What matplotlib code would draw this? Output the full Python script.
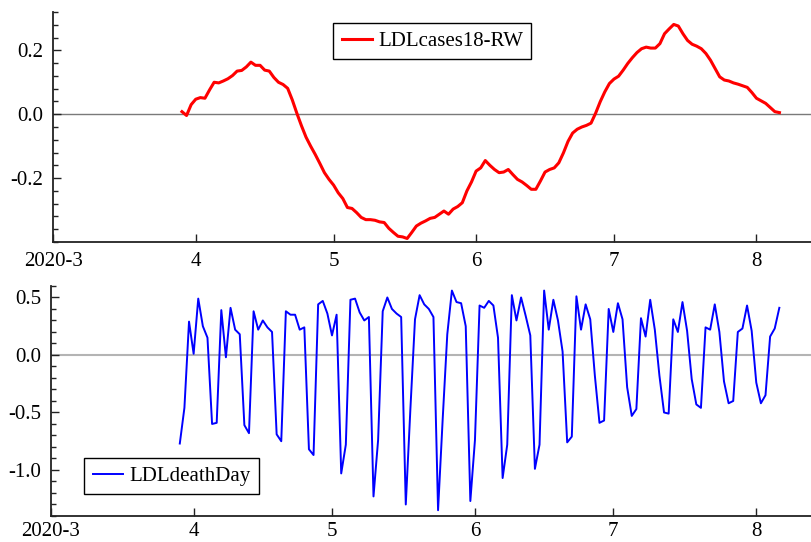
import matplotlib
matplotlib.use("Agg")
import matplotlib.pyplot as plt
import matplotlib.dates as mdates
from matplotlib.ticker import FixedLocator, FixedFormatter, MultipleLocator
import numpy as np
import pandas as pd

plt.rcParams['font.family'] = ['Liberation Serif', 'DejaVu Serif']
plt.rcParams['axes.unicode_minus'] = False

start_day = "2020-03-29"

cases18_rw = [
    0.008, -0.004, 0.030, 0.047, 0.052, 0.050, 0.076, 0.100, 0.098, 0.104,
    0.111, 0.121, 0.135, 0.137, 0.148, 0.163, 0.153, 0.153, 0.138, 0.135,
    0.115, 0.100, 0.093, 0.081, 0.045, 0.003, -0.036, -0.072, -0.100, -0.126,
    -0.154, -0.183, -0.204, -0.222, -0.246, -0.264, -0.292, -0.295, -0.308, -0.323,
    -0.330, -0.330, -0.332, -0.337, -0.339, -0.357, -0.370, -0.382, -0.384, -0.389,
    -0.370, -0.350, -0.341, -0.334, -0.326, -0.323, -0.313, -0.303, -0.313, -0.297,
    -0.289, -0.277, -0.240, -0.212, -0.178, -0.168, -0.145, -0.160, -0.173, -0.183,
    -0.181, -0.173, -0.189, -0.204, -0.212, -0.223, -0.235, -0.235, -0.209, -0.181,
    -0.173, -0.168, -0.152, -0.121, -0.085, -0.059, -0.047, -0.040, -0.035, -0.028,
    0.003, 0.039, 0.070, 0.096, 0.110, 0.119, 0.138, 0.159, 0.177, 0.193,
    0.205, 0.210, 0.207, 0.207, 0.221, 0.252, 0.267, 0.281, 0.276, 0.252,
    0.231, 0.219, 0.213, 0.205, 0.190, 0.169, 0.143, 0.117, 0.107, 0.104,
    0.098, 0.094, 0.089, 0.084, 0.068, 0.050, 0.042, 0.034, 0.021, 0.008,
    0.005,
]

death_day = [
    -0.77, -0.46, 0.29, 0.01, 0.49, 0.25, 0.15, -0.60, -0.59, 0.39,
    -0.02, 0.41, 0.22, 0.18, -0.61, -0.68, 0.38, 0.22, 0.30, 0.24,
    0.20, -0.69, -0.75, 0.38, 0.35, 0.35, 0.22, 0.24, -0.82, -0.87,
    0.44, 0.47, 0.36, 0.17, 0.35, -1.03, -0.78, 0.48, 0.49, 0.37,
    0.30, 0.33, -1.23, -0.74, 0.38, 0.50, 0.40, 0.36, 0.33, -1.30,
    -0.47, 0.31, 0.52, 0.44, 0.40, 0.33, -1.35, -0.56, 0.18, 0.56,
    0.46, 0.45, 0.25, -1.27, -0.74, 0.43, 0.41, 0.47, 0.43, 0.15,
    -1.07, -0.78, 0.52, 0.30, 0.50, 0.34, 0.17, -0.99, -0.78, 0.56,
    0.22, 0.48, 0.30, 0.03, -0.76, -0.71, 0.51, 0.22, 0.44, 0.31,
    -0.18, -0.59, -0.57, 0.40, 0.20, 0.45, 0.31, -0.28, -0.53, -0.47,
    0.32, 0.16, 0.48, 0.22, -0.18, -0.50, -0.51, 0.31, 0.20, 0.46,
    0.21, -0.21, -0.43, -0.46, 0.24, 0.22, 0.44, 0.20, -0.23, -0.42,
    -0.40, 0.20, 0.23, 0.43, 0.21, -0.24, -0.42, -0.35, 0.16, 0.23,
    0.41,
]

month_ticks = ["2020-03-01", "2020-04-01", "2020-05-01", "2020-06-01", "2020-07-01", "2020-08-01"]
month_labels = ["2020-3", "4", "5", "6", "7", "8"]
x_range = ["2020-03-01", "2020-08-13 02:00"]

dates_top = pd.date_range(start_day, periods=len(cases18_rw), freq="D")
dates_bot = pd.date_range(start_day, periods=len(death_day), freq="D")

fig = plt.figure(figsize=(8.12, 5.42), dpi=100)
ax1 = fig.add_axes([0.0656, 0.5535, 0.9344, 0.4244])
ax2 = fig.add_axes([0.0624, 0.048, 0.9376, 0.4244])

ax1.axhline(0, color="#7a7a7a", lw=1.0, zorder=1)
ax1.plot(dates_top, cases18_rw, color="red", lw=2.2, label="LDLcases18-RW", zorder=3)
ax2.axhline(0, color="#b4b4b4", lw=1.5, zorder=1)
ax2.plot(dates_bot, death_day, color="blue", lw=1.4, label="LDLdeathDay", zorder=3)

xt = [mdates.date2num(pd.Timestamp(d)) for d in month_ticks]
xl = [mdates.date2num(pd.Timestamp(d)) for d in x_range]

for ax, ylim, major, minor, xpad in [
    (ax1, (-0.4, 0.32), [-0.2, 0.0, 0.2], 0.04, 7),
    (ax2, (-1.4, 0.6), [-1.0, -0.5, 0.0, 0.5], 0.1, 4.5),
]:
    ax.set_xlim(xl)
    ax.set_ylim(ylim)
    ax.xaxis.set_major_locator(FixedLocator(xt))
    ax.xaxis.set_major_formatter(FixedFormatter(month_labels))
    ax.yaxis.set_major_locator(FixedLocator(major))
    ax.yaxis.set_major_formatter(FixedFormatter(["%.1f" % v for v in major]))
    ax.yaxis.set_minor_locator(MultipleLocator(minor))
    ax.spines["top"].set_visible(False)
    ax.spines["right"].set_visible(False)
    for s in ("left", "bottom"):
        ax.spines[s].set_linewidth(1.3)
        ax.spines[s].set_color("#222222")
    ax.tick_params(axis="both", which="major", direction="in", length=6, width=1.0,
                   labelsize=15, color="#222222")
    ax.tick_params(axis="y", which="minor", direction="in", length=3.5, width=1.0,
                   color="#222222")
    ax.tick_params(axis="x", which="minor", length=0)
    ax.tick_params(axis="y", pad=7)
    ax.tick_params(axis="x", pad=xpad)

leg_kw = dict(fontsize=15, frameon=True, fancybox=False, framealpha=1,
              edgecolor="black", handlelength=1.45, handletextpad=0.3,
              borderaxespad=0, loc="upper left")
l1 = ax1.legend(bbox_to_anchor=(0.369, 0.952), **leg_kw)
l2 = ax2.legend(bbox_to_anchor=(0.044, 0.252), **leg_kw)
for lg in (l1, l2):
    lg.get_frame().set_linewidth(1.0)

fig.savefig("out.png", dpi=100)
